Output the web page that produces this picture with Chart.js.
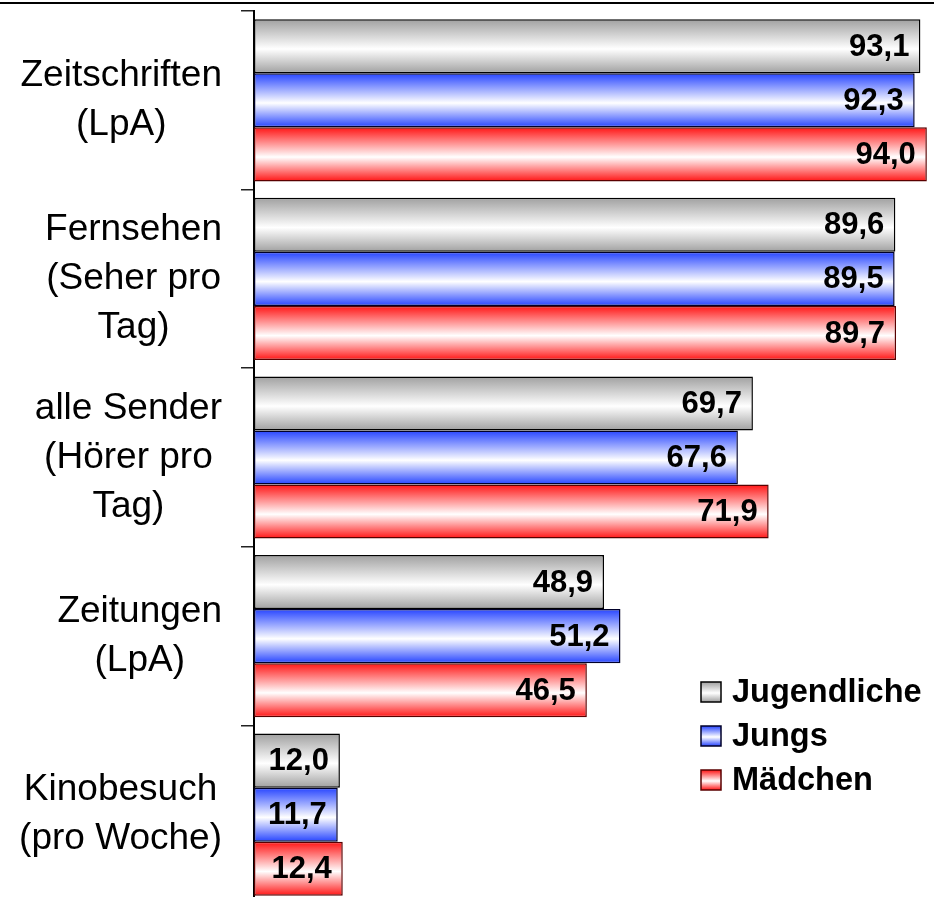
<!DOCTYPE html>
<html>
<head>
<meta charset="utf-8">
<script src="https://cdn.jsdelivr.net/npm/chart.js@4/dist/chart.umd.min.js"></script>
<style>
  html, body { margin: 0; padding: 0; background: #fff; overflow: hidden; }
  #wrap { width: 934px; height: 904px; }
</style>
</head>
<body>
<div id="wrap"><canvas id="chart" width="934" height="904"></canvas></div>
<script>
const categories = [
    ["Zeitschriften", "(LpA)"],
    ["Fernsehen", "(Seher pro", "Tag)"],
    ["alle Sender", "(Hörer pro", "Tag)"],
    ["Zeitungen", "(LpA)"],
    ["Kinobesuch", "(pro Woche)"]
];
const seriesNames = ["Jugendliche", "Jungs", "Mädchen"];
const jugendliche = [93.1, 89.6, 69.7, 48.9, 12.0];
const jungs = [92.3, 89.5, 67.6, 51.2, 11.7];
const maedchen = [94.0, 89.7, 71.9, 46.5, 12.4];

const FONT = "'Liberation Sans', Arial, sans-serif";
const CAT_PCT = 0.908;
const baseColors = ["#a0a0a0", "#2644ff", "#ff1414"];
const borderColors = ["#000000", "#00002a", "#5a0000"];

function makeGradient(ctx, top, h, color){
    const g = ctx.createLinearGradient(0, top, 0, top + h);
    g.addColorStop(0, color);
    g.addColorStop(0.55, "#ffffff");
    g.addColorStop(1, color);
    return g;
}

function barFill(dsIndex){
    return function(c){
        const chart = c.chart;
        const y = chart.scales.y;
        if(!y || c.dataIndex === undefined || !chart.chartArea) return baseColors[dsIndex];
        const size = (y.bottom - y.top) / categories.length;
        const full = size * CAT_PCT;
        const h = full / 3;
        const top = y.getPixelForValue(c.dataIndex) - full / 2 + dsIndex * h;
        return makeGradient(chart.ctx, top, h, baseColors[dsIndex]);
    };
}

const fmt = v => v.toFixed(1).replace(".", ",");

const extras = {
    id: "extras",
    afterDatasetsDraw(chart){
        const ctx = chart.ctx;
        ctx.save();
        ctx.font = "bold 31px " + FONT;
        ctx.fillStyle = "#000";
        ctx.textAlign = "right";
        ctx.textBaseline = "middle";
        chart.data.datasets.forEach((ds, di) => {
            chart.getDatasetMeta(di).data.forEach((bar, i) => {
                ctx.fillText(fmt(ds.data[i]), bar.x - 11, bar.y + 1);
            });
        });
        ctx.restore();
    },
    afterDraw(chart){
        const ctx = chart.ctx;
        const y = chart.scales.y;
        ctx.save();
        // top rule
        ctx.fillStyle = "#000";
        ctx.fillRect(0, 2, chart.width, 2);

        // category labels, each block centered on itself and right aligned
        ctx.font = "37px " + FONT;
        ctx.fillStyle = "#000";
        ctx.textAlign = "center";
        ctx.textBaseline = "middle";
        const lh = 49;
        const right = 222;
        categories.forEach((lines, i) => {
            const w = Math.max(...lines.map(s => ctx.measureText(s).width));
            const cx = right - w / 2;
            const cy = y.getPixelForValue(i);
            lines.forEach((s, k) => {
                ctx.fillText(s, cx, cy + (k - (lines.length - 1) / 2) * lh);
            });
        });

        // legend
        const lx = 701, ly = 692, step = 44, box = 20;
        ctx.font = "bold 32.5px " + FONT;
        ctx.textAlign = "left";
        seriesNames.forEach((name, i) => {
            const cy = ly + i * step;
            ctx.fillStyle = makeGradient(ctx, cy - box / 2, box, baseColors[i]);
            ctx.fillRect(lx, cy - box / 2, box, box);
            ctx.strokeStyle = borderColors[i];
            ctx.lineWidth = 1.5;
            ctx.strokeRect(lx, cy - box / 2, box, box);
            ctx.fillStyle = "#000";
            ctx.fillText(name, lx + 31, cy + 1);
        });
        ctx.restore();
    }
};

const seriesData = [jugendliche, jungs, maedchen];

new Chart(document.getElementById("chart"), {
    type: "bar",
    data: {
        labels: categories,
        datasets: seriesData.map((d, i) => ({
            label: seriesNames[i],
            data: d,
            backgroundColor: barFill(i),
            borderColor: borderColors[i],
            borderWidth: 1.5,
            borderSkipped: false,
            barPercentage: 1,
            categoryPercentage: CAT_PCT
        }))
    },
    options: {
        indexAxis: "y",
        responsive: false,
        animation: false,
        devicePixelRatio: 1,
        layout: { padding: { top: 11, right: 0, bottom: 0, left: 0 } },
        scales: {
            x: { display: false, min: 0, max: 95 },
            y: {
                offset: true,
                grid: {
                    offset: true,
                    drawOnChartArea: false,
                    drawTicks: true,
                    tickLength: 13,
                    color: "#222",
                    lineWidth: 1.5
                },
                border: { display: true, color: "#000", width: 2 },
                ticks: { display: false },
                afterFit(scale){ scale.width = 254; }
            }
        },
        plugins: {
            legend: { display: false },
            tooltip: { enabled: false }
        }
    },
    plugins: [extras]
});
</script>
</body>
</html>
